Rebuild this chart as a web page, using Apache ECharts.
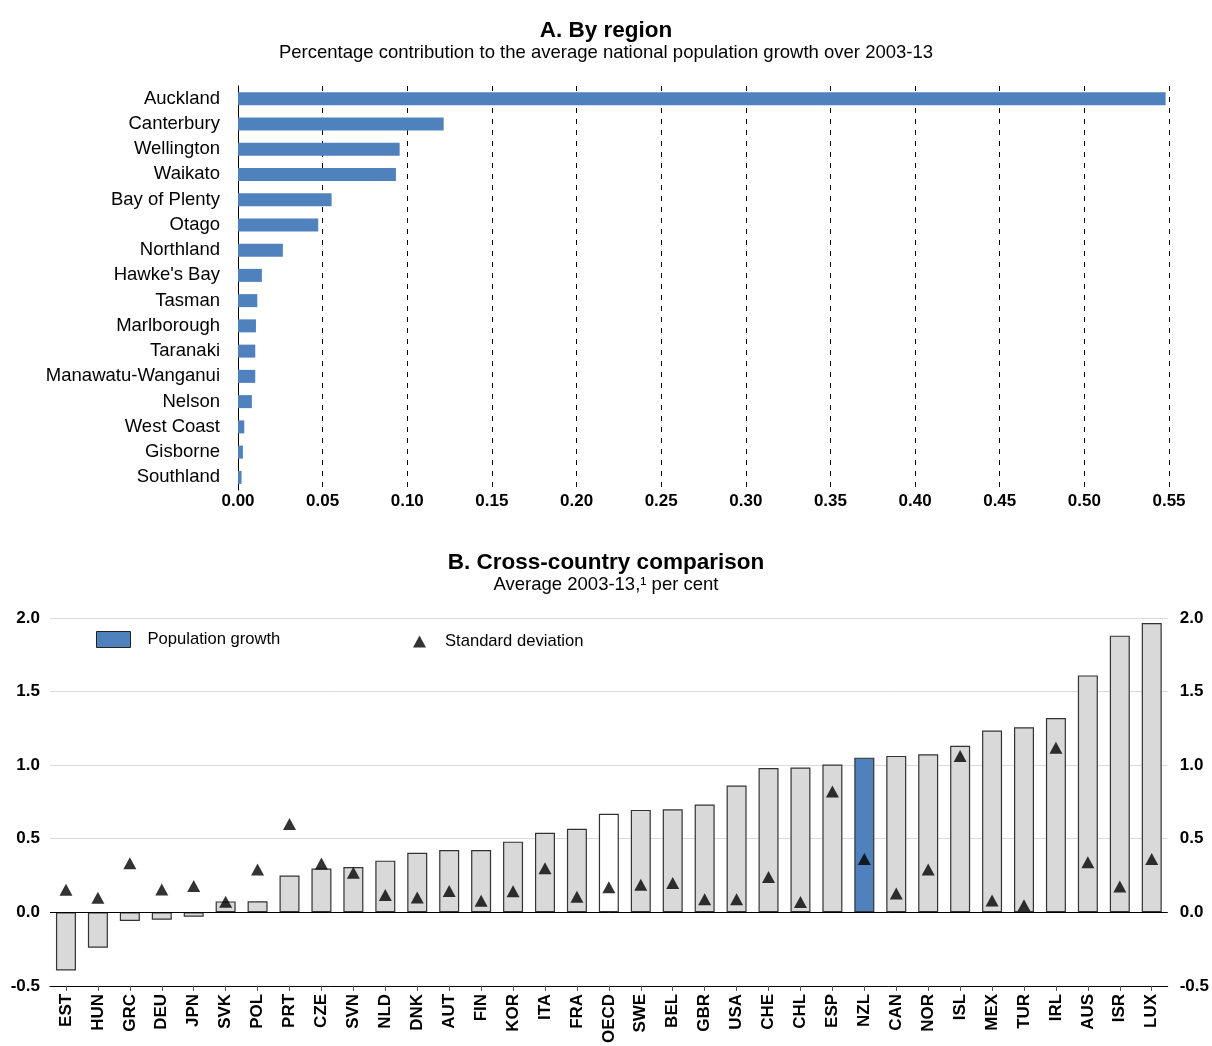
<!DOCTYPE html>
<html><head><meta charset="utf-8">
<script src="https://cdn.jsdelivr.net/npm/echarts@6/dist/echarts.min.js"></script>
<style>html,body{margin:0;padding:0;background:#fff}#c{width:1212px;height:1046px}</style>
</head><body><div id="c"></div>
<script>
const regions = ["Auckland","Canterbury","Wellington","Waikato","Bay of Plenty","Otago","Northland","Hawke's Bay","Tasman","Marlborough","Taranaki","Manawatu-Wanganui","Nelson","West Coast","Gisborne","Southland"];
const regionShare = [0.548,0.1215,0.0955,0.0933,0.0553,0.0474,0.0265,0.0141,0.0114,0.0106,0.0102,0.0102,0.0082,0.0037,0.0029,0.0021];

const countries = ["EST","HUN","GRC","DEU","JPN","SVK","POL","PRT","CZE","SVN","NLD","DNK","AUT","FIN","KOR","ITA","FRA","OECD","SWE","BEL","GBR","USA","CHE","CHL","ESP","NZL","CAN","NOR","ISL","MEX","TUR","IRL","AUS","ISR","LUX"];
const popGrowth = [-0.395,-0.241,-0.059,-0.05,-0.03,0.074,0.075,0.25,0.297,0.308,0.351,0.405,0.423,0.423,0.48,0.54,0.568,0.669,0.696,0.70,0.732,0.862,0.98,0.984,1.004,1.051,1.063,1.074,1.132,1.236,1.257,1.32,1.61,1.88,1.966];
const stdDev = [0.153,0.099,0.333,0.155,0.179,0.071,0.291,0.60,0.331,0.268,0.117,0.10,0.145,0.078,0.143,0.30,0.105,0.171,0.188,0.20,0.089,0.089,0.24,0.07,0.821,0.363,0.127,0.291,1.063,0.081,0.048,1.118,0.341,0.176,0.363];
const yTicksB = [-0.5,0,0.5,1,1.5,2];

const FONT = "'Liberation Sans', Arial, sans-serif";
const chart = echarts.init(document.getElementById('c'), null, {renderer:'canvas'});

function barColor(name){
  if(name==='NZL') return '#4F81BD';
  if(name==='OECD') return '#FFFFFF';
  return '#D9D9D9';
}
const barData = popGrowth.map((v,i)=>({value:v,itemStyle:{color:barColor(countries[i])}}));

chart.setOption({
  animation:false,
  backgroundColor:'#fff',
  textStyle:{fontFamily:FONT},
  title:[
    {text:'A. By region',left:'center',top:14,textStyle:{fontFamily:FONT,fontSize:22.5,fontWeight:'bold',color:'#000'}},
    {text:'Percentage contribution to the average national population growth over 2003-13',left:'center',top:38,textStyle:{fontFamily:FONT,fontSize:18.5,fontWeight:'normal',color:'#000'}},
    {text:'B. Cross-country comparison',left:'center',top:546,textStyle:{fontFamily:FONT,fontSize:22.5,fontWeight:'bold',color:'#000'}},
    {text:'Average 2003-13,\u00b9 per cent',left:'center',top:570,textStyle:{fontFamily:FONT,fontSize:18.5,fontWeight:'normal',color:'#000'}}
  ],
  legend:[
    {data:[{name:'Population growth',itemStyle:{color:'#4F81BD',borderColor:'#222',borderWidth:1}}],
     left:91,top:626,itemWidth:34,itemHeight:16,icon:'rect',
     textStyle:{fontFamily:FONT,fontSize:16.6,color:'#000',padding:[0,0,0,12]}},
    {data:[{name:'Standard deviation'}],left:408,top:628,itemWidth:13,itemHeight:12,icon:'triangle',
     itemStyle:{color:'#000'},
     textStyle:{fontFamily:FONT,fontSize:16.6,color:'#000',padding:[0,0,0,14]}}
  ],
  grid:[
    {left:238,right:43,top:86,height:404},
    {left:50,right:43,top:618,height:370}
  ],
  xAxis:[
    {gridIndex:0,type:'value',min:0,max:0.55,interval:0.05,
     axisLine:{show:false},axisTick:{show:false},
     axisLabel:{fontFamily:FONT,fontSize:17,fontWeight:'bold',color:'#000',margin:3,formatter:v=>v.toFixed(2)},
     splitLine:{show:true,lineStyle:{color:'#000',type:[5,6],width:1}}},
    {gridIndex:1,type:'category',data:countries,
     axisLine:{show:true,onZero:false,lineStyle:{color:'#000',width:1}},
     axisTick:{show:true,alignWithLabel:true,length:5,lineStyle:{color:'#555'}},
     axisLabel:{fontFamily:FONT,fontSize:17,fontWeight:'bold',color:'#000',rotate:90,margin:8,interval:0},
     splitLine:{show:false}}
  ],
  yAxis:[
    {gridIndex:0,type:'category',data:regions,inverse:true,
     axisLine:{show:true,lineStyle:{color:'#000',width:1}},axisTick:{show:false},
     axisLabel:{fontFamily:FONT,fontSize:18.5,color:'#000',margin:18}},
    {gridIndex:1,type:'value',min:yTicksB[0],max:yTicksB[yTicksB.length-1],interval:0.5,position:'left',
     axisLine:{show:false},axisTick:{show:false},
     axisLabel:{fontFamily:FONT,fontSize:17,fontWeight:'bold',color:'#000',margin:10,formatter:v=>v.toFixed(1)},
     splitLine:{show:true,lineStyle:{color:'#DADADA',width:1}}},
    {gridIndex:1,type:'value',min:yTicksB[0],max:yTicksB[yTicksB.length-1],interval:0.5,position:'right',
     axisLine:{show:false},axisTick:{show:false},
     axisLabel:{fontFamily:FONT,fontSize:17,fontWeight:'bold',color:'#000',margin:12,formatter:v=>v.toFixed(1)},
     splitLine:{show:false}}
  ],
  series:[
    {type:'bar',xAxisIndex:0,yAxisIndex:0,data:regionShare,barWidth:13,
     itemStyle:{color:'#4F81BD'}},
    {name:'Population growth',type:'bar',xAxisIndex:1,yAxisIndex:1,data:barData,barWidth:20,
     itemStyle:{borderColor:'#333',borderWidth:1.2},
     markLine:{silent:true,symbol:['none','none'],label:{show:false},
       lineStyle:{color:'#000',width:1,type:'solid'},data:[{yAxis:0}]}},
    {name:'Standard deviation',type:'scatter',xAxisIndex:1,yAxisIndex:1,data:stdDev,
     symbol:'triangle',symbolSize:[13,12],itemStyle:{color:'#000'},z:5}
  ]
});
</script></body></html>
